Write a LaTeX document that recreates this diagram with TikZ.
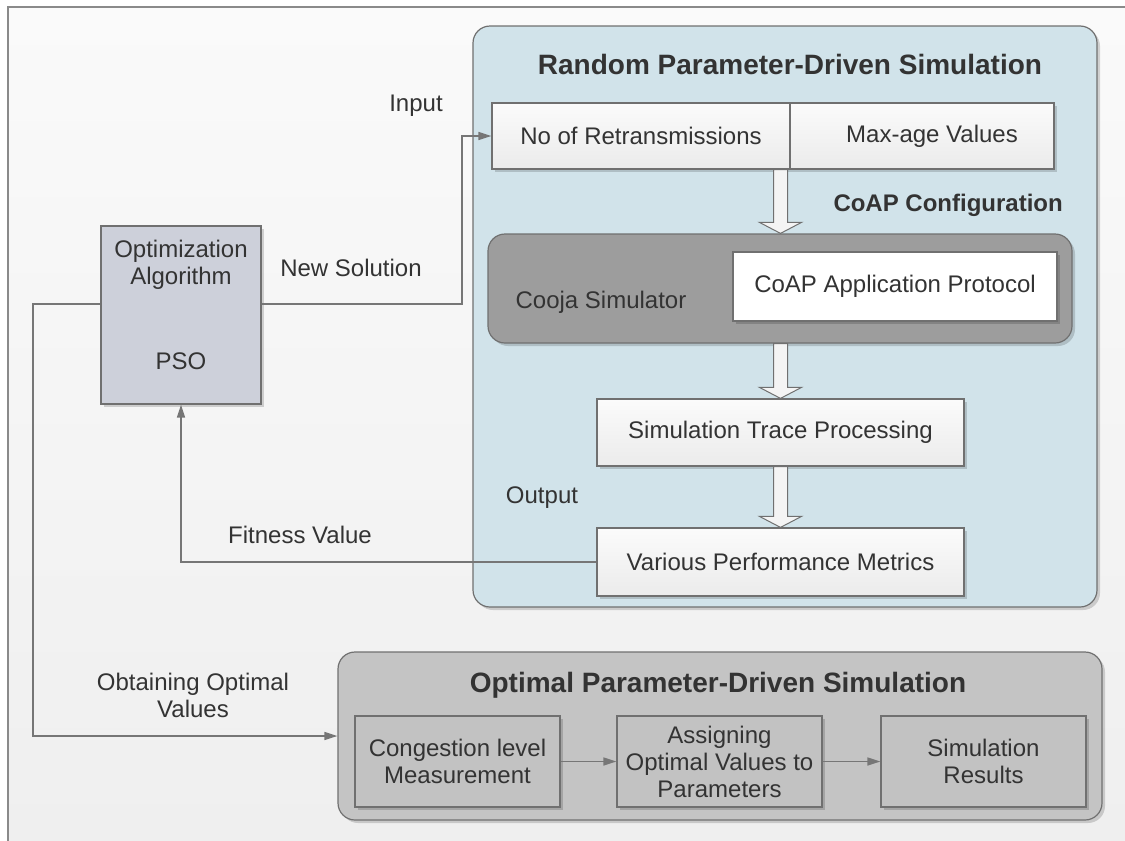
\documentclass[tikz,border=0pt]{standalone}
\usepackage{fontspec}
\setmainfont{Liberation Sans}
\usetikzlibrary{arrows.meta,shadows,calc}

\definecolor{txt}{HTML}{333333}
\definecolor{edge}{HTML}{707070}
\definecolor{wire}{HTML}{767676}
\definecolor{bgtop}{HTML}{FAFAFA}
\definecolor{bgbot}{HTML}{EFEFEF}
\definecolor{framegray}{HTML}{8A8A8A}
\definecolor{paleblue}{HTML}{D1E3EA}
\definecolor{darkgray}{HTML}{9D9D9D}
\definecolor{midgray}{HTML}{C4C4C4}
\definecolor{cellgray}{HTML}{C2C2C2}
\definecolor{psofill}{HTML}{CDD0DA}
\definecolor{boxtop}{HTML}{FBFBFB}
\definecolor{boxbot}{HTML}{EBEBEB}
\definecolor{arrfill}{HTML}{F4F4F4}

\newcommand{\bodysize}{\fontsize{24pt}{27pt}\selectfont}
\newcommand{\headsize}{\fontsize{28pt}{32pt}\selectfont\bfseries}

% hollow down-pointing block arrow between two points on the same vertical
\newcommand{\hollowarrow}[2]{%
  \draw[blockarr] let \p1=(#1), \p2=(#2) in
    (\x1-7pt,\y1) -- (\x1-7pt,\y2+11pt) -- (\x1-21pt,\y2+11pt) -- (\x1,\y2)
    -- (\x1+21pt,\y2+11pt) -- (\x1+7pt,\y2+11pt) -- (\x1+7pt,\y1) -- cycle;}

\begin{document}
\begin{tikzpicture}[x=1pt,y=-1pt,
  softshadow/.style={drop shadow={shadow xshift=3pt,shadow yshift=-3pt,opacity=0.16,fill=black}},
  box/.style={draw=edge,line width=1.2pt,inner sep=0pt,align=center,text=txt,
              font=\bodysize,softshadow},
  lightbox/.style={box,top color=boxtop,bottom color=boxbot},
  whitebox/.style={box,fill=white},
  cell/.style={box,fill=cellgray},
  container/.style={draw=edge,line width=1.2pt,rounded corners=17pt,inner sep=0pt,softshadow},
  label/.style={text=txt,font=\bodysize,align=center,inner sep=0pt},
  heading/.style={text=txt,font=\headsize,align=center,inner sep=0pt},
  conn/.style={draw=wire,line width=1.4pt},
  arr/.style={conn,-{Triangle[length=13pt,width=8pt]}},
  blockarr/.style={draw=edge,line width=1pt,fill=arrfill,line join=miter},
]
\useasboundingbox (0,0) rectangle (1125,841);

% page background with its top and left frame lines
\fill[white] (0,0) rectangle (1125,841);
\shade[top color=bgtop,bottom color=bgbot] (8,7) rectangle (1125,841);
\draw[framegray,line width=2pt] (8,841) -- (8,7) -- (1125,7);

% random-parameter simulation panel
\node[container,fill=paleblue,minimum width=624pt,minimum height=581pt] (rand) at (785,316.5) {};
\node[heading] (randtitle) at (790,64) {Random Parameter-Driven Simulation};
\node[lightbox,minimum width=298pt,minimum height=66pt] (nret) at (641,136) {No of Retransmissions};
\node[lightbox,minimum width=264pt,minimum height=66pt] (maxage) at (922,136) {\hspace*{20pt}Max-age Values};
\node[text=txt,font=\bodysize\bfseries,inner sep=0pt,anchor=east] (coapcfg) at (1063,205) {CoAP Configuration};

\node[container,fill=darkgray,minimum width=584pt,minimum height=109pt] (cooja) at (780,288.5) {};
\node[label] (coojalbl) at (601,302) {Cooja Simulator};
\node[whitebox,minimum width=324pt,minimum height=69pt] (coap) at (895,286.5) {CoAP Application Protocol};

\node[lightbox,minimum width=367pt,minimum height=67pt] (trace) at (780.5,432.5) {Simulation Trace Processing};
\node[lightbox,minimum width=367pt,minimum height=68pt] (metrics) at (780.5,562) {Various Performance Metrics};

\hollowarrow{trace.north |- nret.south}{trace.north |- cooja.north}
\hollowarrow{trace.north |- cooja.south}{trace.north}
\hollowarrow{trace.south}{metrics.north}

\node[label] (inlbl) at (416,106) {Input};
\node[label] (outlbl) at (542,498) {Output};

% optimizer
\node[box,fill=psofill,minimum width=160pt,minimum height=178pt] (pso) at (181,315) {};
\node[label] (psoname) at (181,265) {Optimization\\Algorithm};
\node[label] (psoalg) at (181,361) {PSO};

% optimal-parameter simulation panel
\node[container,fill=midgray,minimum width=764pt,minimum height=168pt] (optim) at (720,736) {};
\node[heading] (optimtitle) at (718,685) {Optimal Parameter-Driven Simulation};
\node[cell,minimum width=205pt,minimum height=91pt] (cong) at (457.5,761.5) {Congestion level\\Measurement};
\node[cell,minimum width=205pt,minimum height=91pt] (assign) at (719.5,761.5) {Assigning\\Optimal Values to\\Parameters};
\node[cell,minimum width=205pt,minimum height=91pt] (results) at (983.5,761.5) {Simulation\\Results};

% connectors
\coordinate (solbend) at (462,304);
\coordinate (optbend) at (33,304);
\draw[arr] (pso.east |- solbend) -- (solbend) |- (nret.west);
\draw[arr] (metrics.west) -| (pso.south);
\draw[arr] (pso.west |- optbend) -- (optbend) |- (optim.west);
\draw[arr] (cong.east) -- (assign.west);
\draw[arr] (assign.east) -- (results.west);

\node[label] (sollbl) at (351,268) {New Solution};
\node[label] (fitlbl) at (300,535) {Fitness Value};
\node[label] (obtlbl) at (193,695) {Obtaining Optimal\\Values};
\end{tikzpicture}
\end{document}
